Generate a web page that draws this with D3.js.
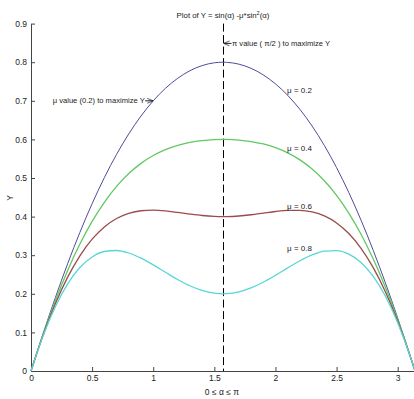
<!DOCTYPE html>
<html>
<head>
<meta charset="utf-8">
<script src="https://cdn.jsdelivr.net/npm/d3@7"></script>
<style>
  body { margin: 0; background: #fff; }
  svg text { font-family: "Liberation Sans Narrow", "Liberation Sans", Arial, sans-serif; fill: #222; }
</style>
</head>
<body>
<div id="chart"></div>
<script>
// sampled alpha positions (0 .. pi) and Y readings for each mu
const alpha = [0, 0.1, 0.2, 0.3, 0.4, 0.5, 0.6, 0.7, 0.8, 0.9, 1.0, 1.1, 1.2, 1.3, 1.4, 1.5, 1.5708,
  1.6, 1.7, 1.8, 1.9, 2.0, 2.1, 2.2, 2.3, 2.4, 2.5, 2.6, 2.7, 2.8, 2.9, 3.0, 3.1, 3.1416];

const yMu02 = [0, 0.0978, 0.1908, 0.2781, 0.3591, 0.4335, 0.5009, 0.5612, 0.6144, 0.6606, 0.6999, 0.7324,
  0.7583, 0.7779, 0.7912, 0.7985, 0.8, 0.7997, 0.7950, 0.7842, 0.7672, 0.7439, 0.7142, 0.6778, 0.6345,
  0.5842, 0.5268, 0.4624, 0.3908, 0.3125, 0.2278, 0.1371, 0.0412, 0];
const yMu04 = [0, 0.0958, 0.1829, 0.2606, 0.3288, 0.3875, 0.4371, 0.4782, 0.5115, 0.5379, 0.5582, 0.5735,
  0.5846, 0.5922, 0.5970, 0.5995, 0.6, 0.5999, 0.5983, 0.5945, 0.5881, 0.5786, 0.5652, 0.5470, 0.5233,
  0.4930, 0.4552, 0.4092, 0.3543, 0.2901, 0.2164, 0.1332, 0.0409, 0];
const yMu06 = [0, 0.0939, 0.1750, 0.2431, 0.2984, 0.3415, 0.3733, 0.3952, 0.4086, 0.4152, 0.4166, 0.4147,
  0.4108, 0.4065, 0.4028, 0.4005, 0.4, 0.4001, 0.4016, 0.4048, 0.4090, 0.4132, 0.4161, 0.4163, 0.4121,
  0.4017, 0.3836, 0.3561, 0.3178, 0.2677, 0.2049, 0.1292, 0.0405, 0];
const yMu08 = [0, 0.0919, 0.1671, 0.2257, 0.2681, 0.2955, 0.3096, 0.3122, 0.3057, 0.2924, 0.2750, 0.2558,
  0.2371, 0.2208, 0.2086, 0.2015, 0.2, 0.2003, 0.2049, 0.2151, 0.2299, 0.2478, 0.2671, 0.2856, 0.3008,
  0.3105, 0.3119, 0.3029, 0.2813, 0.2452, 0.1935, 0.1252, 0.0402, 0];

const seriesNames = ["\u03bc = 0.2", "\u03bc = 0.4", "\u03bc = 0.6", "\u03bc = 0.8"];
const seriesColors = ["#4d4d9a", "#62c862", "#9a4c4c", "#58d6d6"];
const labelPos = [[2.095, 0.728], [2.095, 0.578], [2.095, 0.428], [2.095, 0.319]];

const xTicks = [0, 0.5, 1, 1.5, 2, 2.5, 3];
const yTicks = [0, 0.1, 0.2, 0.3, 0.4, 0.5, 0.6, 0.7, 0.8, 0.9];

const width = 414, height = 399;
const x = d3.scaleLinear().domain([0, Math.PI]).range([31, 415]);
const y = d3.scaleLinear().domain([0, 0.9]).range([371, 23.6]);

const svg = d3.select("#chart").append("svg")
  .attr("width", width)
  .attr("height", height);

const defs = svg.append("defs");
defs.append("marker")
  .attr("id", "arrow")
  .attr("viewBox", "0 0 10 10")
  .attr("refX", 10).attr("refY", 5)
  .attr("markerWidth", 6).attr("markerHeight", 6)
  .attr("markerUnits", "userSpaceOnUse")
  .attr("orient", "auto")
  .append("path")
  .attr("d", "M0,1 L10,5 L0,9")
  .attr("fill", "none")
  .attr("stroke", "#222")
  .attr("stroke-width", 1.2);

// axes (ticks point inward, like MATLAB)
const xAxis = svg.append("g")
  .attr("transform", `translate(0,${y(0)})`)
  .call(d3.axisBottom(x).tickValues(xTicks).tickSizeInner(-4).tickSizeOuter(0).tickPadding(6)
    .tickFormat(d3.format("~g")));
const yAxis = svg.append("g")
  .attr("transform", `translate(${x(0)},0)`)
  .call(d3.axisLeft(y).tickValues(yTicks).tickSizeInner(-4).tickSizeOuter(0).tickPadding(4)
    .tickFormat(d3.format("~g")));

[xAxis, yAxis].forEach(g => {
  g.select(".domain").attr("stroke", "#444");
  g.selectAll(".tick line").attr("stroke", "#444");
  g.selectAll(".tick text").style("font-size", "8.5px").attr("fill", "#333");
});
xAxis.selectAll(".tick text").attr("dy", "0.5em");

// dashed line at pi/2
const midX = Math.round(x(Math.PI / 2)) + 0.5;
svg.append("line")
  .attr("x1", midX).attr("x2", midX)
  .attr("y1", y(0.9)).attr("y2", y(0))
  .attr("stroke", "#000")
  .attr("stroke-width", 1)
  .attr("stroke-dasharray", "8,3.5");

// curves
const allSeries = [yMu02, yMu04, yMu06, yMu08];
const line = d3.line()
  .x((d, i) => x(alpha[i]))
  .y(d => y(d))
  .curve(d3.curveMonotoneX);

svg.append("g").selectAll("path")
  .data(allSeries)
  .join("path")
  .attr("d", line)
  .attr("fill", "none")
  .attr("stroke", (d, i) => seriesColors[i])
  .attr("stroke-width", (d, i) => i === 0 ? 1 : 1.3);

// curve labels
svg.append("g").selectAll("text")
  .data(seriesNames)
  .join("text")
  .attr("x", (d, i) => x(labelPos[i][0]))
  .attr("y", (d, i) => y(labelPos[i][1]))
  .attr("dy", "0.35em")
  .style("font-size", "8px")
  .text(d => d);

// title and axis labels
svg.append("text")
  .attr("x", x(Math.PI / 2))
  .attr("y", 15)
  .attr("dy", "0.35em")
  .attr("text-anchor", "middle")
  .style("font-size", "7.8px")
  .html("Plot of Y = sin(\u03b1) -\u03bc*sin<tspan dy='-3' style='font-size:5.5px'>2</tspan><tspan dy='3'>(\u03b1)</tspan>");

svg.append("text")
  .attr("x", x(Math.PI / 2) - 1)
  .attr("y", 392)
  .attr("dy", "0.35em")
  .attr("text-anchor", "middle")
  .style("font-size", "8.5px")
  .text("0 \u2264 \u03b1 \u2264 \u03c0");

svg.append("text")
  .attr("transform", "translate(10,198) rotate(-90)")
  .attr("text-anchor", "middle")
  .attr("dy", "0.35em")
  .style("font-size", "8.5px")
  .text("Y");

// annotations
const piY = y(0.8487);
svg.append("line")
  .attr("x1", midX + 8).attr("y1", piY)
  .attr("x2", midX).attr("y2", piY)
  .attr("stroke", "#222").attr("stroke-width", 1)
  .attr("marker-end", "url(#arrow)");
svg.append("text")
  .attr("x", midX + 8.5).attr("y", piY)
  .attr("dy", "0.35em")
  .style("font-size", "7.6px")
  .text("\u03c0 value ( \u03c0/2 ) to maximize Y");

const muX = x(1.0), muY = y(0.70);
svg.append("line")
  .attr("x1", muX - 8).attr("y1", muY)
  .attr("x2", muX).attr("y2", muY)
  .attr("stroke", "#222").attr("stroke-width", 1)
  .attr("marker-end", "url(#arrow)");
svg.append("text")
  .attr("x", muX - 8.5).attr("y", muY)
  .attr("dy", "0.35em")
  .attr("text-anchor", "end")
  .style("font-size", "7.6px")
  .text("\u03bc value (0.2) to maximize Y");
</script>
</body>
</html>
